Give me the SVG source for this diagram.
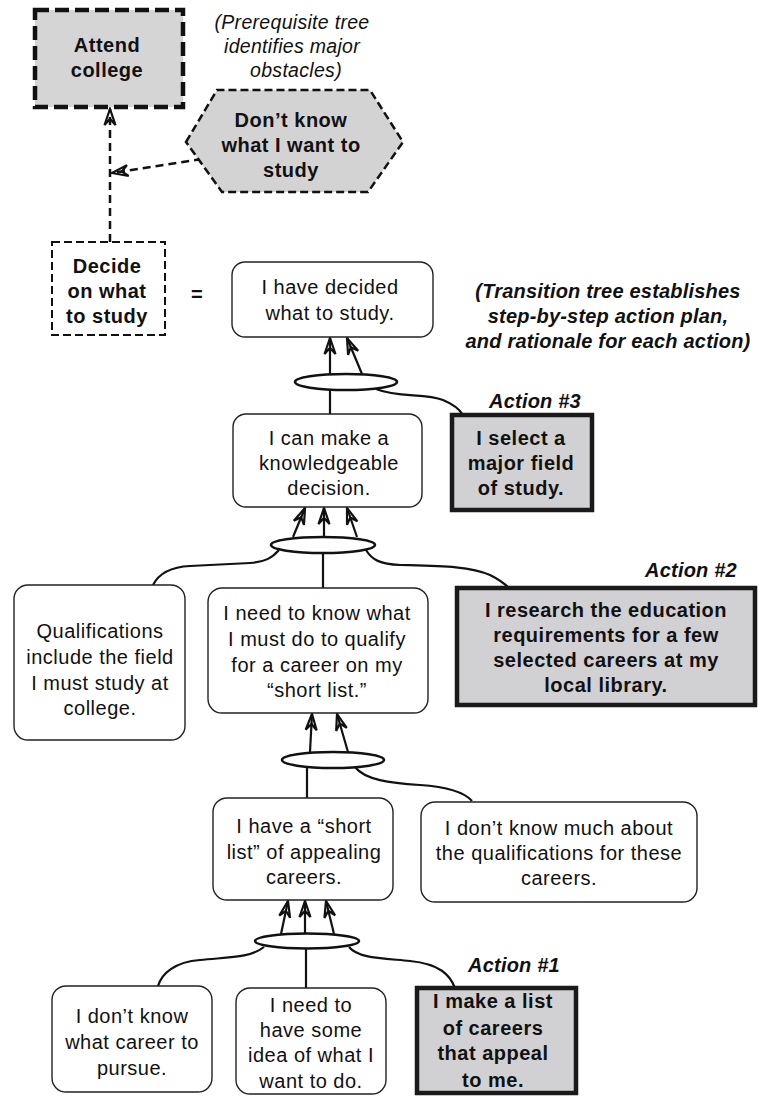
<svg xmlns="http://www.w3.org/2000/svg" width="759" height="1096" viewBox="0 0 759 1096">
  <defs>
    <style>
      .box { fill:#ffffff; stroke:#222; stroke-width:1.4; }
      .act { fill:#d1d1d3; stroke:#1a1a1a; stroke-width:4.5; }
      .t { font-family:"Liberation Sans", Arial, Helvetica, sans-serif; font-size:20px; letter-spacing:0.5px; fill:#111; text-anchor:middle; }
      .b { font-weight:bold; }
      .it { font-style:italic; }
      .note { font-size:19.5px; letter-spacing:0.3px; }
      .lbl { letter-spacing:0.2px; }
      .con { fill:none; stroke:#111; stroke-width:2.2; }
      .dcon { fill:none; stroke:#111; stroke-width:2.5; stroke-dasharray:8 5; }
      .oval { fill:#fff; stroke:#111; stroke-width:2.5; }
    </style>
    <!-- notched open arrowhead; tip sits on the end of the line -->
    <marker id="ah" markerUnits="userSpaceOnUse" viewBox="-20 -8 22 16" refX="0" refY="0" markerWidth="22" markerHeight="16" orient="auto">
      <path d="M0,0 L-16,-5.5 L-10,0 L-16,5.5 Z" fill="none" stroke="#111" stroke-width="2.2" stroke-linejoin="miter" stroke-dasharray="none"/>
    </marker>
  </defs>

  <!-- background -->
  <rect x="0" y="0" width="759" height="1096" fill="#ffffff"/>

  <!-- free-standing annotations -->
  <g id="notes">
    <text class="t it note" x="292" y="29">(Prerequisite tree</text>
    <text class="t it note" x="292" y="53">identifies major</text>
    <text class="t it note" x="296" y="77">obstacles)</text>
    <text class="t b it lbl" x="608" y="298">(Transition tree establishes</text>
    <text class="t b it lbl" x="608" y="323">step-by-step action plan,</text>
    <text class="t b it lbl" x="608" y="348">and rationale for each action)</text>
    <text class="t b" x="197" y="301">=</text>
    <text class="t b it lbl" x="535" y="408">Action #3</text>
    <text class="t b it lbl" x="691" y="577">Action #2</text>
    <text class="t b it lbl" x="514" y="972">Action #1</text>
  </g>

  <!-- connectors -->
  <g id="connectors">
    <!-- prerequisite tree (dashed) -->
    <path class="dcon" d="M110,242 L110,109" marker-end="url(#ah)"/>
    <path class="dcon" d="M202,159 L112,173" marker-end="url(#ah)"/>

    <!-- level 1 -->
    <path class="con" d="M330,374 L330,338" marker-end="url(#ah)"/>
    <path class="con" d="M362,374 L347,338" marker-end="url(#ah)"/>
    <path class="con" d="M330,390 L330,414"/>
    <path class="con" d="M376,389 C398,398 425,393 443,400 C455,405 460,410 463,415"/>

    <!-- level 2 -->
    <path class="con" d="M293,537 L305,508" marker-end="url(#ah)"/>
    <path class="con" d="M324,537 L324,508" marker-end="url(#ah)"/>
    <path class="con" d="M357,537 L347,508" marker-end="url(#ah)"/>
    <path class="con" d="M279,550 C272,558 265,562 250,563 L190,566 C170,567 158,575 153,585"/>
    <path class="con" d="M323,553 L323,588"/>
    <path class="con" d="M366,550 C372,560 380,564 400,565 C440,566 470,566 490,575 C500,580 505,584 509,588"/>

    <!-- level 3 -->
    <path class="con" d="M310,752 L312,714" marker-end="url(#ah)"/>
    <path class="con" d="M348,752 L337,714" marker-end="url(#ah)"/>
    <path class="con" d="M307,768 L307,798"/>
    <path class="con" d="M355,767 C365,780 390,783 420,785 C450,787 465,793 472,801"/>

    <!-- level 4 -->
    <path class="con" d="M281,934 L288,901" marker-end="url(#ah)"/>
    <path class="con" d="M305,934 L305,901" marker-end="url(#ah)"/>
    <path class="con" d="M334,934 L326,901" marker-end="url(#ah)"/>
    <path class="con" d="M264,947 C250,958 230,957 200,960 C175,962 162,973 158,986"/>
    <path class="con" d="M306,949 L306,988"/>
    <path class="con" d="M349,947 C358,958 380,958 410,961 C440,964 450,975 455,988"/>
  </g>

  <!-- logical "and" junctions -->
  <g id="junctions">
    <ellipse class="oval" cx="346" cy="382" rx="51" ry="8"/>
    <ellipse class="oval" cx="323" cy="545" rx="52" ry="8"/>
    <ellipse class="oval" cx="333" cy="760" rx="51" ry="8"/>
    <ellipse class="oval" cx="307" cy="941" rx="52" ry="7.5"/>
  </g>

  <!-- prerequisite tree nodes -->
  <g id="n-attend">
    <rect x="35" y="10" width="148" height="97" fill="#d5d5d5" stroke="#111" stroke-width="4.5" stroke-dasharray="14 6"/>
    <text class="t b" x="107" y="52">Attend</text>
    <text class="t b" x="107" y="77">college</text>
  </g>
  <g id="n-obstacle">
    <polygon points="186,142 217,90 370,90 403,142 368,192 222,192" fill="#d3d3d3" stroke="#111" stroke-width="2.5" stroke-dasharray="8 4"/>
    <text class="t b" x="291" y="127">Don’t know</text>
    <text class="t b" x="291" y="152">what I want to</text>
    <text class="t b" x="291" y="177">study</text>
  </g>
  <g id="n-decide">
    <rect x="52" y="242" width="113" height="93" fill="#fff" stroke="#111" stroke-width="2" stroke-dasharray="8 4"/>
    <text class="t b" x="107" y="273">Decide</text>
    <text class="t b" x="107" y="298">on what</text>
    <text class="t b" x="107" y="323">to study</text>
  </g>

  <!-- transition tree nodes -->
  <g id="n-decided">
    <rect class="box" x="232" y="262" width="201" height="75" rx="13"/>
    <text class="t" x="330" y="294">I have decided</text>
    <text class="t" x="330" y="320">what to study.</text>
  </g>
  <g id="n-knowledgeable">
    <rect class="box" x="233" y="414" width="189" height="93" rx="13"/>
    <text class="t" x="329" y="445">I can make a</text>
    <text class="t" x="329" y="470">knowledgeable</text>
    <text class="t" x="329" y="495">decision.</text>
  </g>
  <g id="n-action3">
    <rect class="act" x="452" y="415" width="140" height="95"/>
    <text class="t b" x="521" y="445">I select a</text>
    <text class="t b" x="521" y="470">major field</text>
    <text class="t b" x="521" y="495">of study.</text>
  </g>
  <g id="n-qualifications">
    <rect class="box" x="14" y="585" width="171" height="155" rx="14"/>
    <text class="t" x="100" y="638">Qualifications</text>
    <text class="t" x="100" y="664">include the field</text>
    <text class="t" x="100" y="690">I must study at</text>
    <text class="t" x="100" y="715">college.</text>
  </g>
  <g id="n-qualify">
    <rect class="box" x="208" y="588" width="220" height="125" rx="14"/>
    <text class="t" x="317" y="620">I need to know what</text>
    <text class="t" x="317" y="646">I must do to qualify</text>
    <text class="t" x="317" y="672">for a career on my</text>
    <text class="t" x="317" y="697">“short list.”</text>
  </g>
  <g id="n-action2">
    <rect class="act" x="457" y="588" width="298" height="117"/>
    <text class="t b" x="606" y="617">I research the education</text>
    <text class="t b" x="606" y="642">requirements for a few</text>
    <text class="t b" x="606" y="667">selected careers at my</text>
    <text class="t b" x="606" y="692">local library.</text>
  </g>
  <g id="n-shortlist">
    <rect class="box" x="213" y="798" width="180" height="102" rx="14"/>
    <text class="t" x="304" y="833">I have a “short</text>
    <text class="t" x="304" y="859">list” of appealing</text>
    <text class="t" x="304" y="884">careers.</text>
  </g>
  <g id="n-dontknowmuch">
    <rect class="box" x="421" y="802" width="276" height="100" rx="14"/>
    <text class="t" x="559" y="835">I don’t know much about</text>
    <text class="t" x="559" y="860">the qualifications for these</text>
    <text class="t" x="559" y="885">careers.</text>
  </g>
  <g id="n-career">
    <rect class="box" x="52" y="986" width="160" height="106" rx="14"/>
    <text class="t" x="132" y="1023">I don’t know</text>
    <text class="t" x="132" y="1049">what career to</text>
    <text class="t" x="132" y="1075">pursue.</text>
  </g>
  <g id="n-idea">
    <rect class="box" x="236" y="988" width="150" height="106" rx="14"/>
    <text class="t" x="311" y="1012">I need to</text>
    <text class="t" x="311" y="1037">have some</text>
    <text class="t" x="311" y="1062">idea of what I</text>
    <text class="t" x="311" y="1088">want to do.</text>
  </g>
  <g id="n-action1">
    <rect class="act" x="417" y="988" width="159" height="105"/>
    <text class="t b" x="493" y="1008">I make a list</text>
    <text class="t b" x="493" y="1035">of careers</text>
    <text class="t b" x="493" y="1060">that appeal</text>
    <text class="t b" x="493" y="1087">to me.</text>
  </g>
</svg>
